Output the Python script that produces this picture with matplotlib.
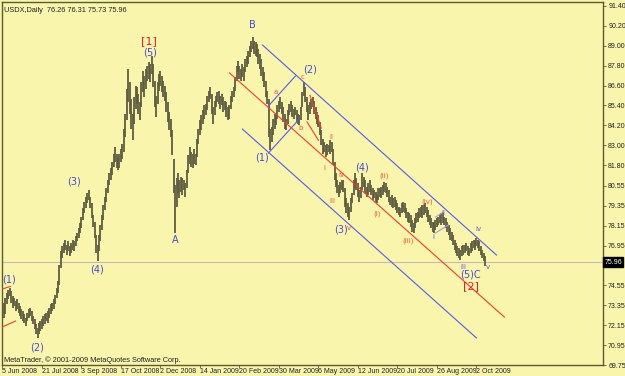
import matplotlib
matplotlib.use("Agg")
import matplotlib.pyplot as plt
import matplotlib.transforms as mtransforms

# ---------------- data (daily bars, index = bar number) ----------------
lows = [
    73.3, 72.6, 72.8, 73.4, 73.7, 73.9, 73.5, 73.2, 73.3, 73.0,
    73.1, 72.9, 72.7, 72.5, 72.4, 72.3, 72.1, 72.4, 72.6, 72.7,
    72.4, 72.2, 71.9, 71.6, 71.4, 71.6, 71.8,
    71.9, 72.1, 72.2, 72.4, 72.3, 72.6, 72.8, 73.0, 73.1, 73.4,
    73.8, 74.1, 74.6, 75.6, 76.2, 76.5, 76.7, 76.4, 76.6, 76.3,
    76.5, 76.7, 76.6, 76.9, 77.2, 77.4, 77.7,
    78.0, 78.5, 78.9, 79.2, 79.5, 79.7, 79.2, 78.6, 78.1, 77.4,
    76.5, 76.0, 76.6, 77.2, 77.9, 78.5, 79.1, 79.6, 80.1, 80.6,
    80.9, 81.2, 81.7, 82.0, 81.6, 81.5, 81.6,
    82.0, 82.2, 82.6, 83.5, 84.5, 85.6, 84.9, 84.0, 83.3, 84.3,
    85.2, 85.5, 84.9, 84.5, 85.3, 86.2, 85.9, 86.4, 86.9, 87.0,
    86.8, 87.3, 86.5, 85.3, 84.7, 85.5, 86.3,
    86.6, 86.2, 85.9, 85.7, 85.0, 84.4, 83.9, 83.5, 82.4, 80.1,
    77.7, 79.3, 80.1, 79.8, 80.2, 80.0, 80.3, 79.9, 80.4, 81.3,
    81.9, 81.7, 81.6, 81.9, 81.8, 82.3, 83.1,
    83.6, 83.9, 84.3, 84.6, 84.8, 85.1, 85.6, 85.8, 84.9, 84.3,
    84.8, 85.3, 85.6, 85.5, 85.2, 85.4, 85.0, 85.1, 84.7, 84.5,
    84.6, 85.2, 85.6, 85.9, 86.3, 86.9, 87.4,
    87.0, 86.9, 87.1, 86.9, 87.4, 87.7, 87.9, 88.3, 88.6, 88.8,
    88.5, 88.4, 88.3, 87.9, 87.6, 87.2, 86.9, 86.5, 85.9, 85.5,
    83.5, 82.7, 83.2, 83.6, 84.0, 84.2, 84.6,
    85.0, 85.2, 84.9, 84.4, 84.0, 83.9, 84.3, 84.8, 85.0, 84.7,
    84.6, 84.8, 84.4, 84.3, 84.2, 84.5, 85.3, 86.0, 85.6, 85.0,
    84.5, 84.9, 85.2, 85.3, 84.9, 84.6, 84.3,
    84.1, 83.6, 83.0, 82.5, 82.6, 82.3, 82.4, 82.6, 82.5, 82.6,
    81.8, 80.9, 80.5, 80.1, 79.9, 80.1, 80.3, 80.2, 79.3, 78.9,
    78.7, 78.5, 79.0, 79.5, 80.0, 80.5, 80.3,
    79.9, 79.6, 79.8, 80.3, 80.5, 80.1, 79.9, 80.0, 80.2, 80.0,
    79.7, 79.8, 79.6, 79.5, 79.7, 79.9, 79.8, 80.0, 80.2, 80.1,
    79.9, 79.6, 79.4, 79.3, 79.2, 79.3, 79.1,
    78.9, 78.8, 78.7, 78.9, 79.0, 78.9, 78.6, 78.4, 78.3, 78.1,
    77.8, 77.7, 78.0, 78.3, 78.4, 78.6, 78.7, 78.6, 78.8, 78.9,
    78.7, 78.4, 78.2, 78.0, 77.8, 77.7, 77.9,
    78.1, 78.2, 78.3, 78.2, 78.3, 78.2, 78.0, 77.8, 77.6, 77.3,
    77.2, 77.0, 76.7, 76.5, 76.3, 76.2, 76.1, 76.3, 76.4, 76.5,
    76.6, 76.4, 76.3, 76.5, 76.6, 76.8, 76.7,
    76.9, 76.8, 76.6, 76.4, 76.2, 76.0, 75.73,
]
highs = [
    74.0, 73.5, 73.8, 74.1, 74.3, 74.4, 74.2, 73.9, 73.8, 73.6,
    73.7, 73.5, 73.3, 73.1, 73.0, 72.8, 72.6, 72.9, 73.1, 73.2,
    73.0, 72.7, 72.5, 72.2, 72.0, 72.3, 72.4,
    72.5, 72.7, 72.8, 72.9, 73.0, 73.2, 73.4, 73.5, 73.7, 74.0,
    74.4, 74.8, 75.8, 76.6, 76.9, 77.1, 77.3, 77.0, 77.2, 76.9,
    77.1, 77.3, 77.2, 77.5, 77.7, 78.0, 78.3,
    78.7, 79.2, 79.6, 79.9, 80.1, 80.3, 79.9, 79.5, 78.8, 78.4,
    77.6, 77.0, 77.6, 78.2, 78.8, 79.4, 79.9, 80.4, 80.9, 81.3,
    81.6, 82.0, 82.5, 82.9, 82.5, 82.3, 82.5,
    82.8, 83.1, 84.0, 84.9, 86.4, 87.6, 86.8, 85.8, 84.9, 85.9,
    86.6, 86.5, 86.1, 85.6, 86.8, 87.5, 87.2, 87.6, 87.8, 88.0,
    87.9, 88.4, 87.9, 86.9, 86.0, 86.8, 87.3,
    87.5, 87.2, 86.9, 86.6, 86.2, 85.6, 85.0, 84.6, 83.9, 82.2,
    80.6, 81.0, 81.3, 80.9, 81.1, 81.0, 80.9, 80.7, 81.5, 82.4,
    82.9, 82.6, 82.5, 82.8, 82.5, 83.4, 84.0,
    84.5, 84.8, 85.1, 85.4, 85.5, 86.0, 86.3, 86.5, 86.1, 85.3,
    85.7, 86.0, 86.2, 86.3, 86.0, 86.1, 85.9, 85.7, 85.6, 85.3,
    85.4, 86.0, 86.3, 86.5, 87.1, 87.8, 88.1,
    87.8, 87.6, 87.9, 87.7, 88.2, 88.4, 88.7, 89.0, 89.3, 89.5,
    89.3, 89.2, 89.1, 88.8, 88.5, 88.2, 87.7, 87.4, 86.9, 86.3,
    85.8, 84.0, 84.1, 84.6, 84.9, 84.9, 85.4,
    85.7, 85.9, 85.6, 85.3, 84.9, 84.6, 85.1, 85.5, 85.7, 85.4,
    85.2, 85.3, 85.1, 84.9, 84.8, 85.3, 86.2, 86.8, 86.5, 85.9,
    85.4, 85.6, 85.8, 85.9, 85.7, 85.3, 85.0,
    84.8, 84.4, 83.9, 83.4, 83.2, 83.0, 83.1, 83.0, 83.3, 83.2,
    82.8, 82.0, 81.3, 80.9, 80.6, 80.8, 80.9, 80.9, 80.4, 79.8,
    79.5, 79.3, 79.8, 80.1, 80.9, 81.3, 81.0,
    80.7, 80.3, 80.5, 81.3, 81.1, 80.9, 80.5, 80.7, 80.9, 80.6,
    80.4, 80.3, 80.2, 80.0, 80.4, 80.4, 80.5, 80.6, 80.8, 80.7,
    80.5, 80.3, 79.9, 80.0, 79.8, 79.9, 79.7,
    79.5, 79.3, 79.2, 79.5, 79.6, 79.5, 79.2, 79.0, 78.9, 78.8,
    78.5, 78.3, 78.6, 78.9, 79.0, 79.2, 79.3, 79.4, 79.4, 79.5,
    79.3, 79.1, 78.8, 78.6, 78.4, 78.3, 78.5,
    78.6, 78.7, 78.8, 78.9, 78.9, 78.7, 78.6, 78.4, 78.2, 78.0,
    77.8, 77.6, 77.3, 77.1, 76.9, 76.8, 76.7, 76.9, 77.0, 77.0,
    77.1, 76.9, 76.8, 77.1, 77.2, 77.3, 77.2,
    77.4, 77.3, 77.2, 76.9, 76.7, 76.5, 76.31,
]
last_price = 75.96
title_text = "USDX,Daily  76.26 76.31 75.73 75.96"
copyright_text = "MetaTrader, \u00a9 2001-2009 MetaQuotes Software Corp."

x_tick_bars = [0, 27, 54, 81, 108, 135, 162, 189, 216, 243, 270, 297, 324]
x_tick_labels = ["5 Jun 2008", "21 Jul 2008", "3 Sep 2008", "17 Oct 2008",
                 "2 Dec 2008", "14 Jan 2009", "20 Feb 2009", "30 Mar 2009",
                 "6 May 2009", "12 Jun 2009", "20 Jul 2009", "26 Aug 2009",
                 "2 Oct 2009"]
y_tick_values = [91.40, 90.20, 89.00, 87.80, 86.60, 85.40, 84.20, 83.00, 81.80,
                 80.55, 79.35, 78.15, 76.95, 74.55, 73.35, 72.15, 70.95, 69.75]
y_tick_labels = ["91.40", "90.20", "89.00", "87.80", "86.60", "85.40", "84.20",
                 "83.00", "81.80", "80.55", "79.35", "78.15", "76.95", "74.55",
                 "73.35", "72.15", "70.95", "69.75"]

# trend / channel lines: (bar0, bar1), (price0, price1)
blue_lines = [
    ((177.7, 337.7), (89.05, 76.38)),   # upper channel
    ((164.0, 324.0), (83.98, 71.38)),   # lower channel
    ((181.8, 200.3), (85.37, 87.18)),   # wave (2) channel top
    ((181.8, 202.3), (82.53, 84.52)),   # wave (2) channel bottom
]
red_lines = [
    ((155.2, 343.1), (87.36, 72.64)),   # middle line
    ((210.2, 217.9), (86.01, 84.04)),
    ((208.2, 216.0), (84.41, 83.30)),
    ((-0.2, 5.5), (74.33, 74.49)),
    ((-0.2, 8.9), (72.04, 72.40)),
]
purple_lines = [
    ((296.0, 301.4), (78.67, 78.97)),
    ((296.0, 304.8), (77.71, 78.19)),
]

# wave labels: (text, bar, price, colour key, size key)
labels = [
    ("[1]", 99.8, 89.28, "red", "big"),
    ("(5)", 101.2, 88.60, "blue", "mid"),
    ("B", 170.9, 90.25, "blue", "mid"),
    ("(2)", 210.5, 87.54, "blue", "mid"),
    ("c", 205.1, 87.12, "orange", "small"),
    ("a", 186.6, 86.21, "orange", "small"),
    ("b", 203.7, 84.04, "orange", "small"),
    ("(1)", 177.7, 82.29, "blue", "mid"),
    ("A", 118.3, 77.29, "blue", "mid"),
    ("(3)", 49.2, 80.84, "blue", "mid"),
    ("(4)", 64.9, 75.48, "blue", "mid"),
    ("(1)", 4.6, 74.93, "blue", "mid"),
    ("(2)", 23.9, 70.83, "blue", "mid"),
    ("ii", 224.9, 83.50, "orange", "small"),
    ("i", 220.1, 81.63, "orange", "small"),
    ("iv", 231.7, 81.21, "orange", "small"),
    ("iii", 225.6, 79.64, "orange", "small"),
    ("(3)", 231.2, 77.95, "blue", "mid"),
    ("v", 236.8, 78.01, "orange", "small"),
    ("(4)", 246.1, 81.69, "blue", "mid"),
    ("(ii)", 261.1, 81.15, "orange", "small"),
    ("(i)", 256.3, 78.85, "orange", "small"),
    ("(iii)", 277.5, 77.23, "orange", "small"),
    ("(iv)", 290.5, 79.58, "orange", "small"),
    ("i", 294.6, 77.47, "purple", "small"),
    ("ii", 301.4, 78.92, "purple", "small"),
    ("iii", 315.1, 75.66, "purple", "small"),
    ("iv", 325.4, 77.95, "purple", "small"),
    ("v", 331.5, 75.66, "purple", "small"),
    ("(5)C", 319.9, 75.18, "blue", "mid"),
    ("[2]", 320.6, 74.51, "red", "big"),
]

# ---------------- styling ----------------
BG = "#f9f5ac"
FRAME = "#5e5a32"
BAR = "#5f5d40"
TXT_FONT = "Liberation Sans"
colors = {"red": "#e8202a", "blue": "#4a4ad0", "orange": "#f05a3a", "purple": "#6a5ad8"}
sizes = {"big": 8.0, "mid": 7, "small": 5}

W, H = 625, 376
fig = plt.figure(figsize=(W / 100, H / 100), dpi=100, facecolor=BG)
ax = fig.add_axes([2 / W, (H - 365) / H, (603 - 2) / W, (365 - 2) / H])
ax.set_facecolor(BG)

n = len(lows)
xs = list(range(n))
ax.vlines(xs, lows, highs, colors=BAR, linewidth=1.3, zorder=3)

ax.axhline(last_price, color="#cdb7b7", linewidth=0.8, zorder=1)

for (bx, py) in blue_lines:
    ax.plot(bx, py, color="#5a5ae6", linewidth=0.8, zorder=4)
for (bx, py) in red_lines:
    ax.plot(bx, py, color="#f04030", linewidth=0.8, zorder=4)
for (bx, py) in purple_lines:
    ax.plot(bx, py, color="#a898e8", linewidth=0.8, zorder=4)

for txt, bx, py, ck, sk in labels:
    ax.text(bx, py, txt, color=colors[ck], fontsize=sizes[sk], ha="center",
            va="center", family="DejaVu Sans", zorder=5)

ax.set_xlim(-0.3, 410.5)
ax.set_ylim(69.75, 91.64)

for s in ax.spines.values():
    s.set_color(FRAME)
    s.set_linewidth(1.0)

ax.set_xticks(x_tick_bars)
ax.set_xticklabels(x_tick_labels, fontsize=5.0, color="#222222", family=TXT_FONT)
for lbl in ax.get_xticklabels():
    lbl.set_ha("left")
ax.tick_params(axis="x", direction="out", length=2, width=0.6, color=FRAME, pad=0.3)

ax.yaxis.tick_right()
ax.set_yticks(y_tick_values)
ax.set_yticklabels(y_tick_labels, fontsize=5.0, color="#222222", family=TXT_FONT)
ax.tick_params(axis="y", direction="out", length=2.5, width=0.6, color=FRAME, pad=1.2)

trans = mtransforms.blended_transform_factory(ax.transAxes, ax.transData)
ax.text(1.002, last_price, "%.2f" % last_price, transform=trans, fontsize=5.0,
        color="white", ha="left", va="center", family=TXT_FONT,
        bbox=dict(boxstyle="square,pad=0.15", facecolor="black", edgecolor="black"))

fig.text(4 / W, 1 - 10 / H, title_text, fontsize=5.3, color="#222222", ha="left",
         va="center", family=TXT_FONT)
fig.text(4 / W, 1 - 360 / H, copyright_text, fontsize=5.3, color="#222222", ha="left",
         va="center", family=TXT_FONT)

fig.savefig("out.png", dpi=100, facecolor=BG)
